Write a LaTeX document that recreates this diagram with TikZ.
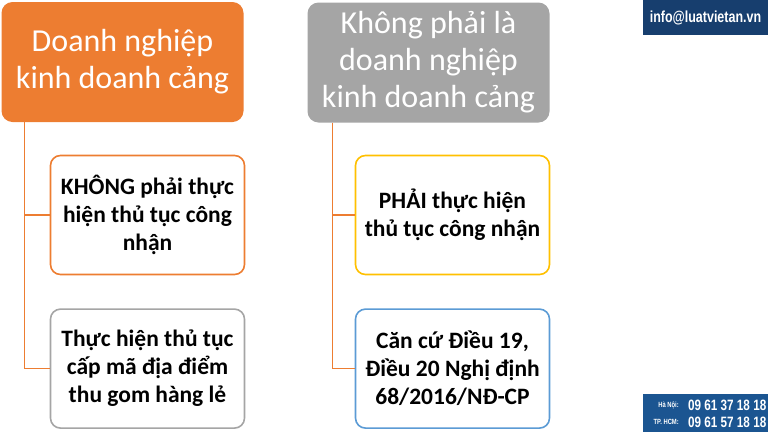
\documentclass[tikz,border=0pt]{standalone}
\usepackage{fontspec}
\setmainfont{Carlito}
\newfontfamily\contactfont[FakeStretch=0.78]{Liberation Sans}
\usetikzlibrary{positioning}
\definecolor{headorange}{HTML}{ED7D31}
\definecolor{headgray}{HTML}{A5A5A5}
\definecolor{boxyellow}{HTML}{FFC000}
\definecolor{boxblue}{HTML}{5B9BD5}
\definecolor{boxgray}{HTML}{A5A5A5}
\definecolor{infoblue}{HTML}{173E6E}
\definecolor{phoneblue}{HTML}{1B5591}
\begin{document}
\begin{tikzpicture}[x=1pt, y=-1pt,
    head/.style = {rounded corners=11pt, text=white, align=center, minimum width=242pt,
                   minimum height=120pt, font=\fontsize{32}{37}\selectfont},
    sub/.style = {draw, line width=1.6pt, rounded corners=10pt, fill=white, align=center,
                  minimum width=194pt, minimum height=119pt, font=\bfseries\fontsize{23.5}{28}\selectfont},
    link/.style = {draw=headorange, line width=1.6pt},
    city/.style = {text=white, inner sep=0pt, anchor=east, font=\contactfont\bfseries\fontsize{7.5}{8}\selectfont},
    num/.style = {text=white, inner sep=0pt, anchor=west, font=\contactfont\bfseries\fontsize{15}{15}\selectfont}]
  \useasboundingbox (0,0) rectangle (768,432);

  \node[head, fill=headorange] (h1) at (122.5,62) {Doanh nghiệp\\kinh doanh cảng};
  \node[sub, draw=headorange] (c1) at (147.5,215) {KHÔNG phải thực\\hiện thủ tục công\\nhận};
  \node[sub, draw=boxgray] (c2) [below=33pt of c1] {Thực hiện thủ tục\\cấp mã địa điểm\\thu gom hàng lẻ};

  \node[head, fill=headgray] (h2) at (428.5,62.5) {Không phải là\\doanh nghiệp\\kinh doanh cảng};
  \node[sub, draw=boxyellow] (c3) at (452.5,215) {PHẢI thực hiện\\thủ tục công nhận};
  \node[sub, draw=boxblue] (c4) [below=33pt of c3] {Căn cứ Điều 19,\\Điều 20 Nghị định\\68/2016/NĐ-CP};

  \coordinate (t1) at ([xshift=23pt]h1.south west);
  \coordinate (t2) at ([xshift=25pt]h2.south west);
  \draw[link] (t1) |- (c1.west);
  \draw[link] (t1) |- (c2.west);
  \draw[link] (t2) |- (c3.west);
  \draw[link] (t2) |- (c4.west);

  \node[fill=infoblue, text=white, minimum width=125pt, minimum height=35pt,
        font=\contactfont\bfseries\fontsize{16}{18}\selectfont] (info) at (705.5,17.5) {info@luatvietan.vn};
  \node[fill=phoneblue, minimum width=125pt, minimum height=38pt] (phone) at (705.5,413) {};
  \node[city] (hn) at (679,405) {Hà Nội:};
  \node[num] (hnnum) at (688,405) {09 61 37 18 18};
  \node[city] (hcm) at (679,422) {TP. HCM:};
  \node[num] (hcmnum) at (688,422) {09 61 57 18 18};
\end{tikzpicture}
\end{document}
